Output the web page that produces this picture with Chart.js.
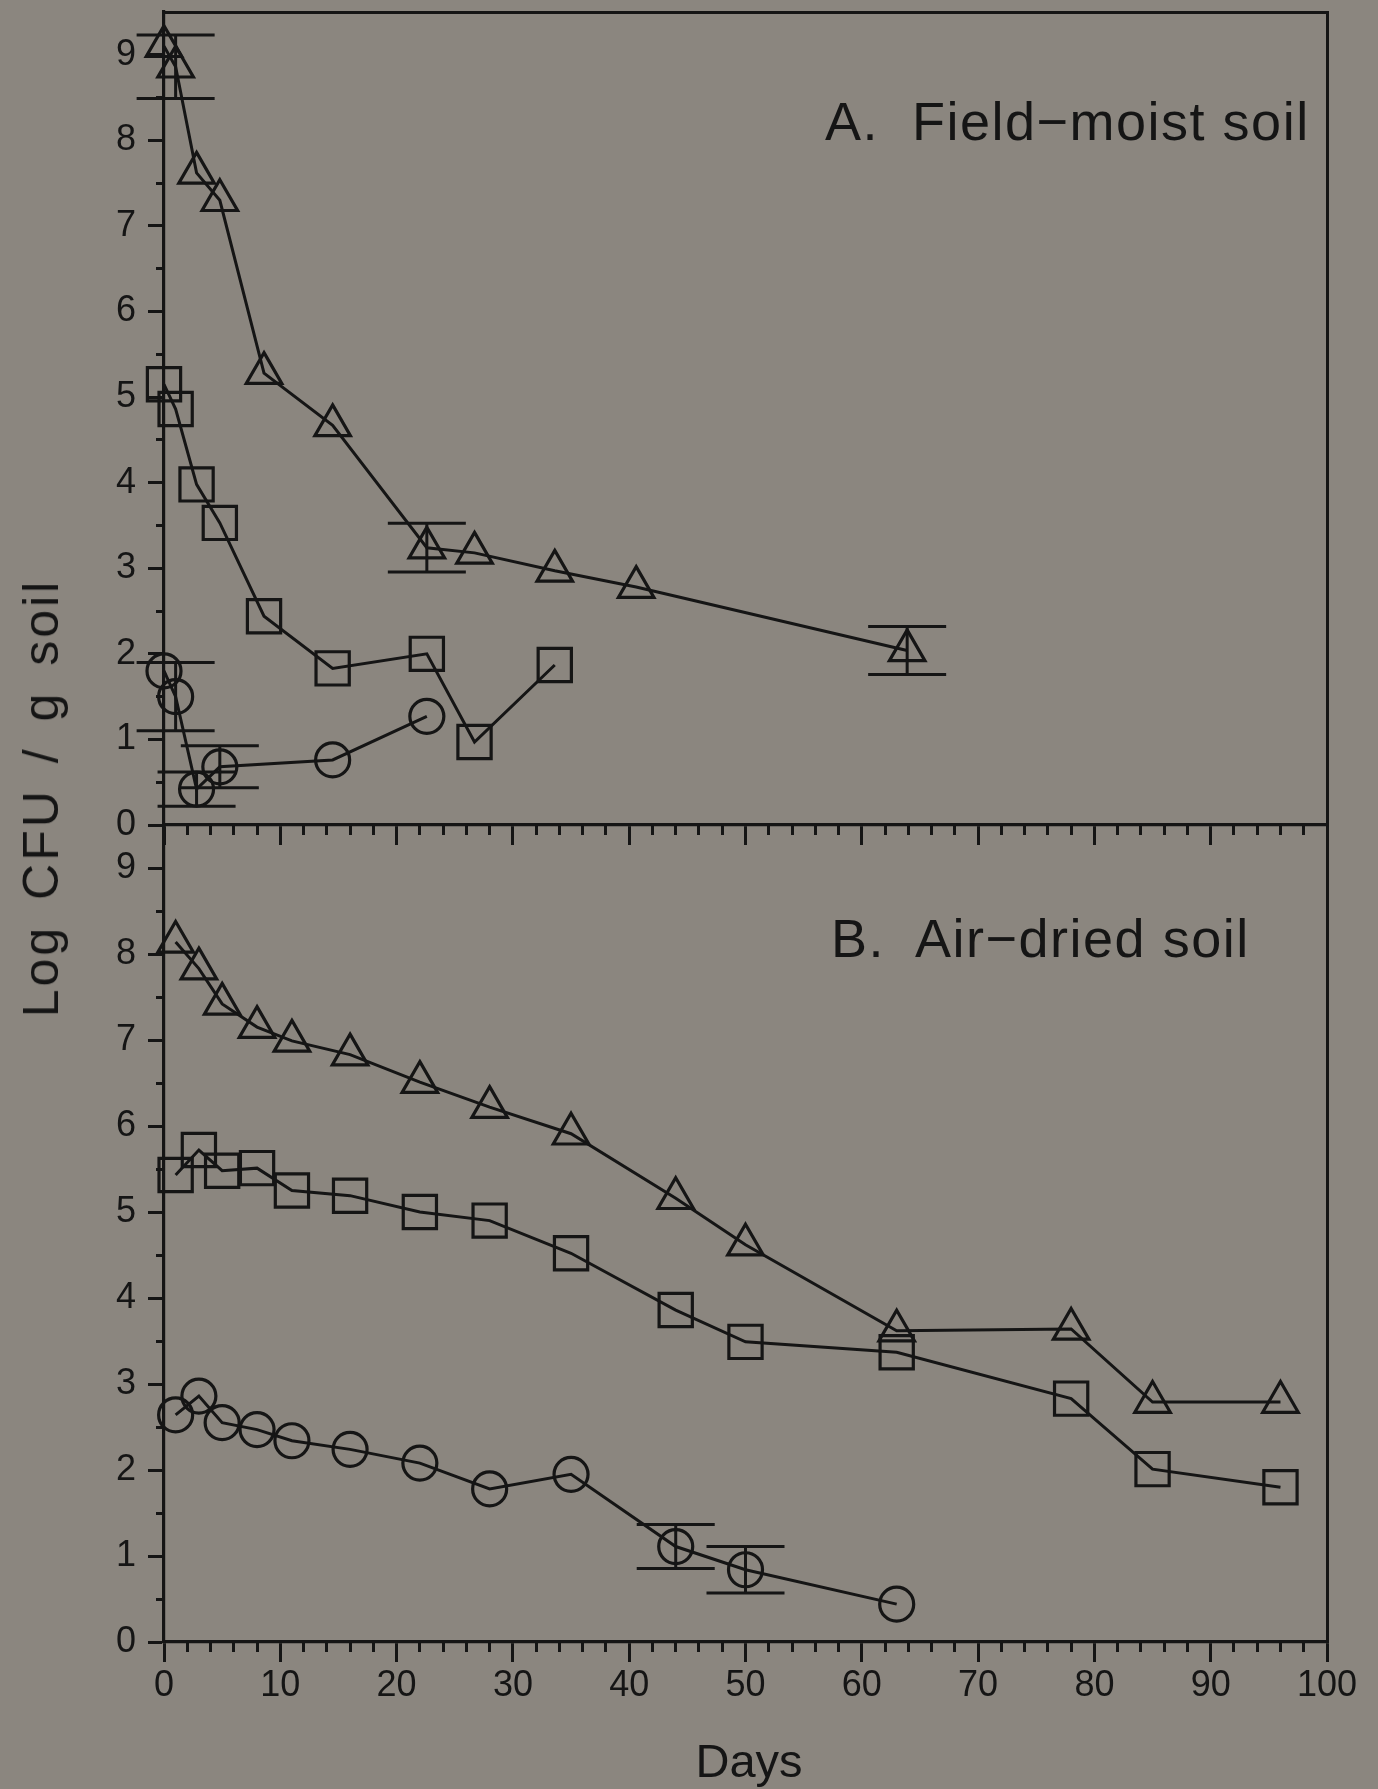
<!DOCTYPE html>
<html>
<head>
<meta charset="utf-8">
<script src="https://cdn.jsdelivr.net/npm/chart.js@4.4.1/dist/chart.umd.min.js"></script>
<style>
  html, body { margin: 0; padding: 0; background: #8b867f; }
  #wrap { position: relative; width: 1378px; height: 1789px; overflow: hidden; background: #8b867f;
          font-family: "Liberation Sans", Arial, sans-serif; color: #151515; }
  canvas { position: absolute; left: 0; top: 0; }
  .lbl { position: absolute; white-space: pre; line-height: 1; }
</style>
</head>
<body>
<div id="wrap">
  <canvas id="chartA" width="1378" height="1789"></canvas>
  <canvas id="chartB" width="1378" height="1789"></canvas>
  <div class="lbl" style="left:825px; top:94px; font-size:54px; letter-spacing:1.5px;">A.  Field−moist soil</div>
  <div class="lbl" style="left:831px; top:911px; font-size:54px; letter-spacing:1.5px;">B.  Air−dried soil</div>
  <div class="lbl" style="left:41px; top:798px; font-size:50px; letter-spacing:3px; word-spacing:8px; transform:translate(-50%,-50%) rotate(-90deg);">Log CFU / g soil</div>
  <div class="lbl" style="left:749px; top:1737px; font-size:47px; transform:translateX(-50%);">Days</div>
</div>
<script>
// ---------- tick values ----------
const dayTicksMajor = [0, 10, 20, 30, 40, 50, 60, 70, 80, 90, 100];
const dayTicksMinor = [2, 4, 6, 8, 12, 14, 16, 18, 22, 24, 26, 28, 32, 34, 36, 38, 42, 44, 46, 48,
                       52, 54, 56, 58, 62, 64, 66, 68, 72, 74, 76, 78, 82, 84, 86, 88, 92, 94, 96, 98];
const logTicksMajor = [0, 1, 2, 3, 4, 5, 6, 7, 8, 9];
const logTicksMinor = [0.5, 1.5, 2.5, 3.5, 4.5, 5.5, 6.5, 7.5, 8.5];

// ---------- Panel A: field-moist soil ----------
const daysA_tri = [0, 1, 2.8, 4.8, 8.6, 14.5, 22.6, 26.7, 33.6, 40.6, 63.9];
const logA_tri  = [9.10, 8.86, 7.62, 7.30, 5.28, 4.67, 3.24, 3.18, 2.97, 2.78, 2.04];
const errA_tri  = [null, 0.37, null, null, null, null, 0.285, null, null, null, 0.28];

const daysA_sq = [0, 1, 2.8, 4.8, 8.6, 14.5, 22.6, 26.7, 33.6];
const logA_sq  = [5.15, 4.86, 3.98, 3.53, 2.44, 1.83, 2.00, 0.97, 1.87];

const daysA_ci = [0, 1, 2.8, 4.8, 14.5, 22.6];
const logA_ci  = [1.80, 1.50, 0.42, 0.68, 0.76, 1.27];
const errA_ci  = [null, 0.40, 0.20, 0.245, null, null];

// ---------- Panel B: air-dried soil ----------
const daysB     = [1, 3, 5, 8, 11, 16, 22, 28, 35, 44, 50, 63, 78, 85, 96];
const logB_tri  = [8.14, 7.83, 7.42, 7.15, 6.99, 6.83, 6.51, 6.22, 5.91, 5.16, 4.62, 3.62, 3.64, 2.79, 2.79];
const logB_sq   = [5.43, 5.72, 5.48, 5.51, 5.25, 5.19, 5.00, 4.90, 4.52, 3.86, 3.49, 3.37, 2.83, 2.01, 1.80];
const daysB_ci  = [1, 3, 5, 8, 11, 16, 22, 28, 35, 44, 50, 63];
const logB_ci   = [2.64, 2.86, 2.55, 2.47, 2.34, 2.24, 2.08, 1.78, 1.95, 1.11, 0.84, 0.44];
const errB_ci   = [null, null, null, null, null, null, null, null, null, 0.255, 0.27, null];

// ---------- styling ----------
const INK = '#151515';
Chart.defaults.font.family = "'Liberation Sans', Arial, sans-serif";
Chart.defaults.color = INK;

function pts(xs, ys) { return xs.map((x, i) => ({ x: x, y: ys[i] })); }

function series(xs, ys, style, radius, errs) {
  return {
    data: pts(xs, ys),
    errors: errs || null,
    borderColor: INK,
    borderWidth: 3,
    pointStyle: style,
    pointRadius: radius,
    pointBorderWidth: 3.2,
    pointBorderColor: INK,
    pointBackgroundColor: 'rgba(0,0,0,0)',
    fill: false,
    tension: 0,
    clip: false,
    xAxisID: 'x',
    yAxisID: 'y'
  };
}

const errorBars = {
  id: 'errorBars',
  afterDatasetsDraw(chart) {
    const ctx = chart.ctx, xs = chart.scales.x, ys = chart.scales.y;
    ctx.save();
    ctx.strokeStyle = INK;
    ctx.lineWidth = 3;
    chart.data.datasets.forEach(ds => {
      if (!ds.errors) return;
      ds.data.forEach((p, i) => {
        const e = ds.errors[i];
        if (e == null) return;
        const px = xs.getPixelForValue(p.x);
        const hi = ys.getPixelForValue(p.y + e);
        const lo = ys.getPixelForValue(p.y - e);
        const cap = 39;
        ctx.beginPath();
        ctx.moveTo(px, hi); ctx.lineTo(px, lo);
        ctx.moveTo(px - cap, hi); ctx.lineTo(px + cap, hi);
        ctx.moveTo(px - cap, lo); ctx.lineTo(px + cap, lo);
        ctx.stroke();
      });
    });
    ctx.restore();
  }
};

function setTicks(list) {
  return sc => { sc.ticks = list.map(v => ({ value: v })); };
}

function makeScales(showXLabels, xAxisHeight, withTop) {
  const tickFont = { family: "'Liberation Sans', Arial, sans-serif", size: 36 };
  const s = {
    x: {
      type: 'linear', min: 0, max: 100, position: 'bottom', weight: 1,
      afterBuildTicks: setTicks(dayTicksMajor),
      afterFit: sc => { sc.height = xAxisHeight; sc.paddingLeft = 0; sc.paddingRight = 0; },
      grid: { drawOnChartArea: false, drawTicks: true, tickLength: 20, tickWidth: 3, tickColor: INK, color: INK },
      border: { display: true, color: INK, width: 3.2 },
      ticks: { display: showXLabels, color: INK, font: tickFont, padding: 2, maxRotation: 0, autoSkip: false }
    },
    xMinor: {
      type: 'linear', min: 0, max: 100, position: 'bottom', weight: 0,
      afterBuildTicks: setTicks(dayTicksMinor),
      afterFit: sc => { sc.height = 0; sc.paddingLeft = 0; sc.paddingRight = 0; },
      grid: { drawOnChartArea: false, drawTicks: true, tickLength: 10, tickWidth: 3, tickColor: INK, color: INK },
      border: { display: false },
      ticks: { display: false }
    },
    y: {
      type: 'linear', min: 0, max: 9.5, position: 'left', weight: 1,
      afterBuildTicks: setTicks(logTicksMajor),
      afterFit: sc => { sc.width = 164; sc.paddingTop = 0; sc.paddingBottom = 0; },
      grid: { drawOnChartArea: false, drawTicks: true, tickLength: 16, tickWidth: 3, tickColor: INK, color: INK },
      border: { display: true, color: INK, width: 3.2 },
      ticks: { display: true, color: INK, font: tickFont, padding: 12, autoSkip: false }
    },
    yMinor: {
      type: 'linear', min: 0, max: 9.5, position: 'left', weight: 0,
      afterBuildTicks: setTicks(logTicksMinor),
      afterFit: sc => { sc.width = 0; sc.paddingTop = 0; sc.paddingBottom = 0; },
      grid: { drawOnChartArea: false, drawTicks: true, tickLength: 8, tickWidth: 3, tickColor: INK, color: INK },
      border: { display: false },
      ticks: { display: false }
    },
    yRight: {
      type: 'linear', min: 0, max: 9.5, position: 'right',
      afterFit: sc => { sc.width = 0; sc.paddingTop = 0; sc.paddingBottom = 0; },
      grid: { display: false, drawTicks: false },
      border: { display: true, color: INK, width: 3 },
      ticks: { display: false }
    }
  };
  if (withTop) {
    s.xTop = {
      type: 'linear', min: 0, max: 100, position: 'top',
      afterFit: sc => { sc.height = 0; sc.paddingLeft = 0; sc.paddingRight = 0; },
      grid: { display: false, drawTicks: false },
      border: { display: true, color: INK, width: 3 },
      ticks: { display: false }
    };
  }
  return s;
}

function baseOptions(padding, scales) {
  return {
    responsive: false,
    animation: false,
    devicePixelRatio: 1,
    events: [],
    layout: { padding: padding, autoPadding: false },
    plugins: { legend: { display: false }, tooltip: { enabled: false }, title: { display: false } },
    scales: scales
  };
}

new Chart(document.getElementById('chartA'), {
  type: 'line',
  data: {
    datasets: [
      series(daysA_tri, logA_tri, 'triangle', 20.5, errA_tri),
      series(daysA_sq, logA_sq, 'rect', 23.5, null),
      series(daysA_ci, logA_ci, 'circle', 17, errA_ci)
    ]
  },
  options: baseOptions({ left: 0, right: 51, top: 12, bottom: 924 }, makeScales(false, 40, true)),
  plugins: [errorBars]
});

new Chart(document.getElementById('chartB'), {
  type: 'line',
  data: {
    datasets: [
      series(daysB, logB_tri, 'triangle', 20.5, null),
      series(daysB, logB_sq, 'rect', 23.5, null),
      series(daysB_ci, logB_ci, 'circle', 17, errB_ci)
    ]
  },
  options: baseOptions({ left: 0, right: 51, top: 825, bottom: 47 }, makeScales(true, 100, false)),
  plugins: [errorBars]
});
</script>
</body>
</html>
